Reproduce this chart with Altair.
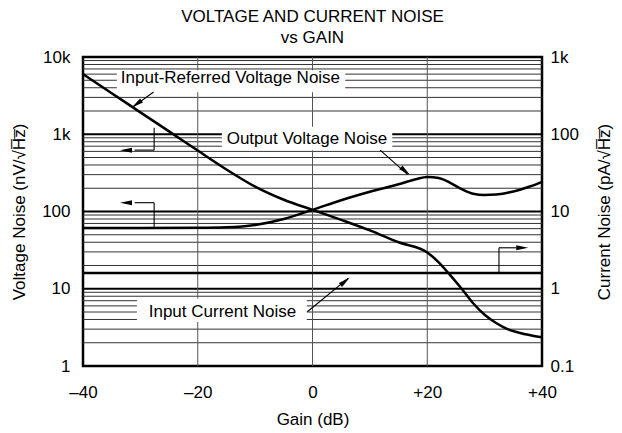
import altair as alt
import pandas as pd

# ---------------- data ----------------
gain_ir = [-40, -35, -30, -25, -20, -15, -10, -5, 0, 5, 10, 15, 20, 22, 24, 26, 28, 30, 32, 34, 36, 38, 40]
input_referred = [6000, 3400, 1920, 1090, 615, 350, 210, 142, 105, 78, 57, 40, 29.5, 22, 15, 10, 6.5, 4.6, 3.6, 3.0, 2.7, 2.5, 2.35]

gain_out = [-40, -30, -20, -15, -10, -5, 0, 5, 10, 15, 18, 20, 22, 24, 26, 28, 30, 32, 34, 36, 38, 40]
output_noise = [61, 61, 61.5, 62.5, 67, 80, 105, 140, 180, 225, 262, 280, 272, 235, 195, 170, 164, 166, 175, 190, 212, 242]

gain_cur = [-40, 40]
current_noise = [1.6, 1.6]

x_ticks = [-40, -20, 0, 20, 40]
x_labels = ["\u201340", "\u201320", "0", "+20", "+40"]
left_ticks = [1, 10, 100, 1000, 10000]
left_labels = ["1", "10", "100", "1k", "10k"]
right_ticks = [0.1, 1, 10, 100, 1000]
right_labels = ["0.1", "1", "10", "100", "1k"]
minor_grid = [k * 10 ** d for d in range(4) for k in range(2, 10)]
major_grid = [10, 100, 1000]
vertical_grid = [-20, 0, 20]

# annotation text and anchors (gain dB, nV/rtHz)
label_text = ["Input-Referred Voltage Noise", "Output Voltage Noise", "Input Current Noise"]
label_x = [-14.3, -0.96, -15.7]
label_y = [5270, 865, 4.95]
box_x = [-34.1, -15.8, -30.6]
box_x2 = [5.7, 13.9, -1.0]
box_y = [3500, 623, 3.71]
box_y2 = [6750, 1247, 7.5]

# leader lines
seg_data = {
    "x": [-27.7, 11.8, -0.9, -27.6, -27.6, -27.6, -27.6, 32.5, 32.5],
    "x2": [-31.3, 16.6, 6.2, -27.6, -31.0, -27.6, -31.0, 32.5, 35.5],
    "y": [3530, 623, 5.04, 1211, 623, 61, 130, 16, 33.9],
    "y2": [2250, 300, 13.6, 623, 623, 130, 130, 33.9, 33.9],
}
head_data = {
    "x": [-31.5, 17.0, 6.5, -33.55, -33.55, 37.6],
    "y": [2220, 296, 14.0, 623, 130, 33.9],
    "a": [324.5, 219.8, 140.9, 0, 0, 180],
}

def label_expr(ticks, labels):
    parts = []
    for t, l in zip(ticks, labels):
        parts.append(f"abs(datum.value - ({t})) < {abs(t) * 1e-3 + 1e-9} ? '{l}'")
    return " : ".join(parts) + " : datum.label"

FONT = "Liberation Sans"
FS = 17
xs = alt.Scale(domain=[-40, 40], nice=False)
ys = alt.Scale(type="log", domain=[1, 10000], nice=False)
ys_r = alt.Scale(type="log", domain=[0.1, 1000], nice=False)

common = dict(ticks=False, domain=False, grid=False, labelFlush=False,
              labelFontSize=FS, titleFontSize=FS, labelFont=FONT, titleFont=FONT,
              labelColor="black", titleColor="black", titleFontWeight="normal")

x_axis = alt.Axis(values=x_ticks, labelExpr=label_expr(x_ticks, x_labels), labelPadding=18,
                  title="Gain (dB)", titlePadding=11, **common)
y_axis = alt.Axis(values=left_ticks, labelExpr=label_expr(left_ticks, left_labels), labelPadding=13,
                  title="Voltage Noise (nV/\u221aH\u0305z\u0305)", titlePadding=13, **common)
yr_axis = alt.Axis(values=right_ticks, labelExpr=label_expr(right_ticks, right_labels), orient="right",
                   labelPadding=8, title="Current Noise (pA/\u221aH\u0305z\u0305)", titleAngle=270,
                   titlePadding=35, **common)

X = lambda f: alt.X(f, scale=xs, axis=x_axis)
Y = lambda f: alt.Y(f, scale=ys, axis=y_axis)

minor_df = pd.DataFrame({"v": minor_grid})
major_df = pd.DataFrame({"v": major_grid})
vgrid_df = pd.DataFrame({"g": vertical_grid})

minor = alt.Chart(minor_df).mark_rule(color="#333333", strokeWidth=1).encode(y=Y("v:Q"))
major = alt.Chart(major_df).mark_rule(color="black", strokeWidth=2.2).encode(y=Y("v:Q"))
vgrid = alt.Chart(vgrid_df).mark_rule(color="#555555", strokeWidth=1).encode(x=X("g:Q"))

box_df = pd.DataFrame({"x": box_x, "x2": box_x2, "y": box_y, "y2": box_y2})
boxes = alt.Chart(box_df).mark_rect(color="white").encode(
    x=X("x:Q"), x2="x2:Q", y=Y("y:Q"), y2="y2:Q")

ir_df = pd.DataFrame({"g": gain_ir, "v": input_referred})
out_df = pd.DataFrame({"g": gain_out, "v": output_noise})
ir_line = alt.Chart(ir_df).mark_line(color="black", strokeWidth=2.5, interpolate="monotone").encode(
    x=X("g:Q"), y=Y("v:Q"))
out_line = alt.Chart(out_df).mark_line(color="black", strokeWidth=2.5, interpolate="monotone").encode(
    x=X("g:Q"), y=Y("v:Q"))

seg_df = pd.DataFrame(seg_data)
segs = alt.Chart(seg_df).mark_rule(color="black", strokeWidth=1.1).encode(
    x=X("x:Q"), x2="x2:Q", y=Y("y:Q"), y2="y2:Q")

head_df = pd.DataFrame(head_data)
heads = alt.Chart(head_df).mark_point(filled=True, color="black", opacity=1, size=100,
                                      shape="M 0 0 L 2.4 -0.5 L 2.4 0.5 Z").encode(
    x=X("x:Q"), y=Y("y:Q"), angle=alt.Angle("a:Q", scale=None))

lab_df = pd.DataFrame({"t": label_text, "x": label_x, "y": label_y})
labels = alt.Chart(lab_df).mark_text(font=FONT, fontSize=FS, color="black").encode(
    x=X("x:Q"), y=Y("y:Q"), text="t:N")

left = alt.layer(minor, major, vgrid, boxes, out_line, ir_line, segs, heads, labels)

cur_df = pd.DataFrame({"g": gain_cur, "v": current_noise})
cur_line = alt.Chart(cur_df).mark_line(color="black", strokeWidth=2.5).encode(
    x=X("g:Q"), y=alt.Y("v:Q", scale=ys_r, axis=yr_axis))

chart = alt.layer(left, cur_line).resolve_scale(y="independent").properties(
    width=459, height=309,
    title=alt.TitleParams(["VOLTAGE AND CURRENT NOISE", "vs GAIN"], font=FONT, fontSize=FS,
                          fontWeight="normal", color="black", lineHeight=21, offset=1, anchor="middle"),
    padding={"left": 75, "top": 49, "right": 72, "bottom": 63},
    autosize=alt.AutoSizeParams(type="none"),
).configure_view(stroke="black", strokeWidth=2.5)

chart.save("out.html", embed_options={"renderer": "svg", "actions": False})
